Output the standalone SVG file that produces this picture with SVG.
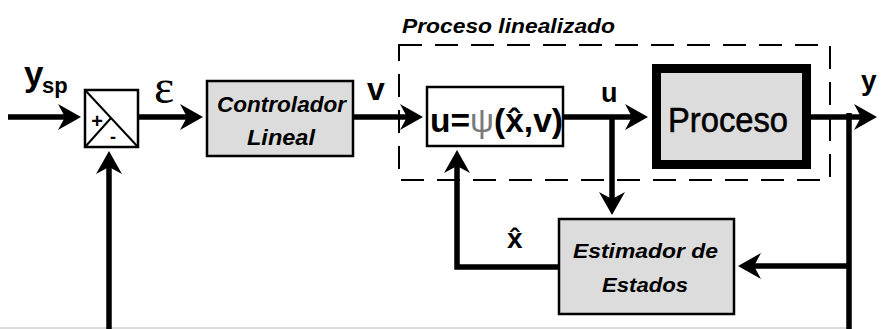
<svg xmlns="http://www.w3.org/2000/svg" width="881" height="329" viewBox="0 0 881 329">
<style>
.ln{fill:none;stroke:#000;stroke-width:5.5}
.box{stroke:#000;stroke-width:2.5}
.gray{fill:#dcdcdc}
.t{font-family:"Liberation Sans",Arial,sans-serif;font-weight:bold;fill:#000}
.it{font-style:italic}
</style>
<defs>
<marker id="ah" viewBox="0 -14 24 28" refX="14" refY="0" markerWidth="24" markerHeight="28" markerUnits="userSpaceOnUse" orient="auto">
<path d="M24,0 L1,-13 L8,0 L1,13 Z" fill="#000"/>
</marker>
</defs>
<rect width="881" height="329" fill="#fff"/>
<line x1="0" y1="328" x2="848" y2="328" stroke="#cfcfcf" stroke-width="1.5"/>

<g id="linearized-group">
<rect x="399" y="45" width="431" height="135" fill="none" stroke="#000" stroke-width="2" stroke-dasharray="23,13"/>
<text class="t it" x="402" y="33" font-size="20" textLength="213" lengthAdjust="spacingAndGlyphs">Proceso linealizado</text>
</g>

<g id="connectors">
<path class="ln" d="M8,117 H71" marker-end="url(#ah)"/>
<path class="ln" d="M138,117 H193" marker-end="url(#ah)"/>
<path class="ln" d="M353,117 H413" marker-end="url(#ah)"/>
<path class="ln" d="M563,117 H638" marker-end="url(#ah)"/>
<path class="ln" d="M811,117 H867" marker-end="url(#ah)"/>
<path class="ln" d="M612,117 V205" marker-end="url(#ah)"/>
<path class="ln" d="M849,113 V329"/>
<path class="ln" d="M849,266 H748" marker-end="url(#ah)"/>
<path class="ln" d="M559,267 H457 V160" marker-end="url(#ah)"/>
<path class="ln" d="M109,329 V161" marker-end="url(#ah)"/>
</g>

<g id="summer">
<rect x="85" y="90" width="53" height="57" fill="#fff" class="box"/>
<path d="M85,90 L138,147 M85,147 L111,118" stroke="#000" stroke-width="2" fill="none"/>
<text class="t" x="97" y="128" font-size="20" text-anchor="middle" font-weight="normal">+</text>
<text class="t" x="113" y="143" font-size="18" text-anchor="middle">-</text>
</g>

<g id="labels">
<text class="t" x="24" y="86" font-size="35">y</text>
<text class="t" x="42" y="93" font-size="22">sp</text>
<text x="154" y="103" font-family="Liberation Serif,serif" font-size="48" fill="#000">ε</text>
<text class="t" x="367" y="100" font-size="32">v</text>
<text class="t" x="601" y="102" font-size="27">u</text>
<text class="t" x="861" y="90" font-size="28">y</text>
<text class="t" x="507" y="248" font-size="28">x̂</text>
</g>

<g id="controller">
<rect x="207" y="81" width="146" height="75" class="box gray"/>
<text class="t it" x="217" y="112" font-size="22" textLength="129" lengthAdjust="spacingAndGlyphs">Controlador</text>
<text class="t it" x="247" y="145" font-size="22" textLength="68" lengthAdjust="spacingAndGlyphs">Lineal</text>
</g>

<g id="linearizer">
<rect x="427" y="87" width="136" height="59" fill="#fff" class="box"/>
<text class="t" x="430" y="132" font-size="34" textLength="133" lengthAdjust="spacingAndGlyphs">u=<tspan fill="#7a7a7a" font-weight="normal">ψ</tspan>(x̂,v)</text>
</g>

<g id="process">
<rect x="656.5" y="68.5" width="150" height="96" fill="#dcdcdc" stroke="#000" stroke-width="9"/>
<text x="668" y="132" font-family="Liberation Sans,Arial,sans-serif" font-size="35" fill="#000" stroke="#000" stroke-width="0.6" textLength="120" lengthAdjust="spacingAndGlyphs">Proceso</text>
</g>

<g id="estimator">
<rect x="559" y="219" width="175" height="95" class="box gray"/>
<text class="t it" x="573" y="258" font-size="21" textLength="145" lengthAdjust="spacingAndGlyphs">Estimador de</text>
<text class="t it" x="602" y="292" font-size="21" textLength="86" lengthAdjust="spacingAndGlyphs">Estados</text>
</g>
</svg>
